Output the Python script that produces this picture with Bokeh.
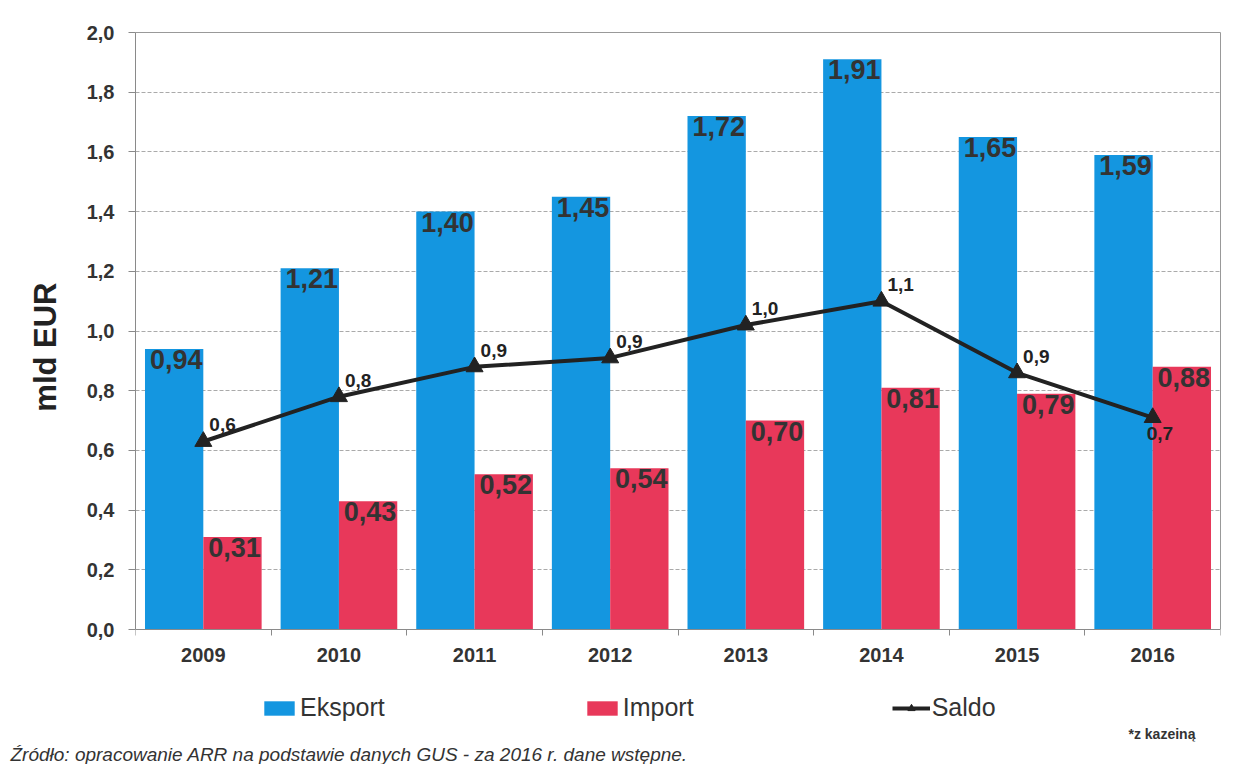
import numpy as np
from bokeh.plotting import figure
from bokeh.models import (ColumnDataSource, Range1d, FixedTicker, CustomJSTickFormatter,
                          LabelSet, Label, Legend, LegendItem, Title, LinearAxis)
from bokeh.core.properties import value
from bokeh.embed import file_html
from bokeh.resources import INLINE

years = ["2009", "2010", "2011", "2012", "2013", "2014", "2015", "2016"]
eksport = [0.94, 1.21, 1.40, 1.45, 1.72, 1.91, 1.65, 1.59]
import_ = [0.31, 0.43, 0.52, 0.54, 0.70, 0.81, 0.79, 0.88]
saldo = [0.63, 0.78, 0.88, 0.91, 1.02, 1.10, 0.86, 0.71]
y_ticks = [0.0, 0.2, 0.4, 0.6, 0.8, 1.0, 1.2, 1.4, 1.6, 1.8, 2.0]

BLUE = "#1496E0"
RED = "#E8385A"
DARK = "#222222"
TXT = "#333333"
AXC = "#8a8a8a"
FONT = "Liberation Sans"

idx = np.arange(len(years))
bw = 0.43
n = len(years)

def fmt(v, d):
    return f"{v:.{d}f}".replace(".", ",")

src = ColumnDataSource(dict(
    x=idx, xe=idx - bw / 2, xi=idx + bw / 2,
    eksport=eksport, imp=import_, saldo=saldo,
    le=[fmt(v, 2) for v in eksport],
    li=[fmt(v, 2) for v in import_],
    ls=[fmt(v, 1) for v in saldo],
))
src_up = ColumnDataSource({k: list(v[:n - 1]) for k, v in src.data.items()})
src_dn = ColumnDataSource({k: list(v[n - 1:]) for k, v in src.data.items()})

# frame: top at 2.0, extends below 0 to make room for legend inside the frame
p = figure(width=1236, height=764, output_backend="svg", toolbar_location=None,
           x_range=Range1d(-0.5, n - 0.5), y_range=Range1d(-0.375, 2.0),
           min_border_left=135, min_border_right=16, min_border_top=32, min_border_bottom=22)
p.background_fill_color = "white"
p.border_fill_color = "white"
p.outline_line_color = None

r_e = p.vbar(x="xe", top="eksport", width=bw, source=src, fill_color=BLUE, line_color=None)
r_i = p.vbar(x="xi", top="imp", width=bw, source=src, fill_color=RED, line_color=None)
r_l = p.line(x="x", y="saldo", source=src, line_color=DARK, line_width=4)
r_m = p.scatter(x="x", y="saldo", source=src, marker="triangle", size=17,
                fill_color=DARK, line_color=DARK)

# x axis drawn at y = 0
p.xaxis.fixed_location = 0
p.xaxis.ticker = FixedTicker(ticks=list(idx), minor_ticks=list(np.arange(n + 1) - 0.5))
p.xaxis.major_label_overrides = {int(i): y for i, y in zip(idx, years)}
p.xaxis.major_tick_line_color = None
p.xaxis.minor_tick_out = 6
p.xaxis.minor_tick_in = 0
p.xaxis.minor_tick_line_color = AXC
p.xaxis.axis_line_color = AXC
p.xaxis.major_label_standoff = 12
p.xaxis.major_label_text_font = FONT
p.xaxis.major_label_text_font_size = "20px"
p.xaxis.major_label_text_font_style = "bold"
p.xaxis.major_label_text_color = TXT

p.yaxis.bounds = (0, 2)
p.yaxis.ticker = FixedTicker(ticks=y_ticks)
p.yaxis.formatter = CustomJSTickFormatter(code="return tick.toFixed(1).replace('.', ',');")
p.yaxis.axis_line_color = AXC
p.yaxis.major_tick_line_color = AXC
p.yaxis.major_tick_out = 7
p.yaxis.major_tick_in = 0
p.yaxis.minor_tick_line_color = None
p.yaxis.major_label_standoff = 14
p.yaxis.major_label_text_font = FONT
p.yaxis.major_label_text_font_size = "20px"
p.yaxis.major_label_text_font_style = "bold"
p.yaxis.major_label_text_color = TXT

# frame border lines (top and right) limited to the value range
top_ax = LinearAxis(ticker=FixedTicker(ticks=[]), axis_line_color="#999999",
                    major_tick_line_color=None, minor_tick_line_color=None,
                    major_label_text_font_size="0px")
p.add_layout(top_ax, "above")
right_ax = LinearAxis(ticker=FixedTicker(ticks=[]), bounds=(0, 2), axis_line_color="#999999",
                      major_tick_line_color=None, minor_tick_line_color=None,
                      major_label_text_font_size="0px")
p.add_layout(right_ax, "right")

p.add_layout(Title(text="mld EUR", align="right", offset=250, standoff=42,
                   text_font=FONT, text_font_size="31px", text_font_style="bold",
                   text_color="#222222"), "left")

p.xgrid.grid_line_color = None
p.ygrid.grid_line_color = "#aaaaaa"
p.ygrid.grid_line_dash = "4 2"
p.ygrid.grid_line_width = 1

# value labels
common = dict(text_font=value(FONT), text_font_style="bold")
p.add_layout(LabelSet(x="xe", y="eksport", text="le", source=src, text_align="center",
                      text_baseline="top", x_offset=2, y_offset=-1,
                      text_font_size="27px", text_color=TXT, **common))
p.add_layout(LabelSet(x="xi", y="imp", text="li", source=src, text_align="center",
                      text_baseline="top", x_offset=2, y_offset=-1,
                      text_font_size="27px", text_color=TXT, **common))
p.add_layout(LabelSet(x="x", y="saldo", text="ls", source=src_up, text_align="left",
                      text_baseline="bottom", x_offset=6, y_offset=10,
                      text_font_size="19px", text_color=DARK, **common))
p.add_layout(LabelSet(x="x", y="saldo", text="ls", source=src_dn, text_align="left",
                      text_baseline="top", x_offset=-6, y_offset=-9,
                      text_font_size="19px", text_color=DARK, **common))

# legend (inside the extended frame, below the x axis)
legend = Legend(items=[LegendItem(label="Eksport", renderers=[r_e]),
                       LegendItem(label="Import", renderers=[r_i]),
                       LegendItem(label="Saldo", renderers=[r_l, r_m])],
                orientation="horizontal", location=(125, 19), spacing=198,
                glyph_width=38, glyph_height=18, label_standoff=2, label_height=26,
                padding=0, margin=0, border_line_color=None, background_fill_alpha=0,
                label_text_font=FONT, label_text_font_size="25px", label_text_color=TXT)
p.add_layout(legend, "center")

p.add_layout(Label(x=993, y=0, x_units="screen", y_units="screen", text="*z kazeiną",
                   text_font=FONT, text_font_size="14px", text_font_style="bold",
                   text_color=TXT, text_baseline="bottom"))
p.add_layout(Title(text="Źródło: opracowanie ARR na podstawie danych GUS -  za  2016 r. dane wstępne.",
                   align="left", offset=-125, standoff=0,
                   text_font=FONT, text_font_size="19px", text_font_style="italic",
                   text_color=TXT), "below")

open("out.html", "w").write(file_html(p, INLINE))
